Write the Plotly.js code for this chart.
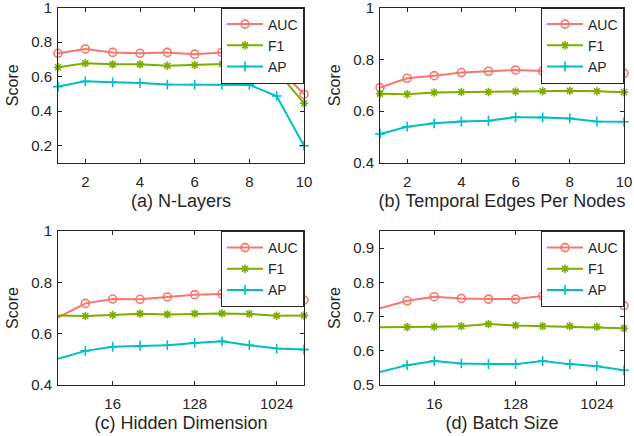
<!DOCTYPE html>
<html>
<head>
<meta charset="utf-8">
<script src="https://cdn.plot.ly/plotly-3.0.1.min.js"></script>
<style>html,body{margin:0;padding:0;background:#fff;}#chart{width:634px;height:436px;}</style>
</head>
<body>
<div id="chart"></div>
<script>
// ---- data ----
const seriesNames = ["AUC", "F1", "AP"];
const seriesColors = ["#F8766D", "#7CAE00", "#00BFC4"];

const layersX = [1, 2, 3, 4, 5, 6, 7, 8, 9, 10];
const layersAUC = [0.735, 0.760, 0.740, 0.735, 0.740, 0.730, 0.740, 0.745, 0.660, 0.498];
const layersF1  = [0.654, 0.677, 0.671, 0.671, 0.663, 0.667, 0.673, 0.672, 0.635, 0.446];
const layersAP  = [0.542, 0.573, 0.567, 0.563, 0.554, 0.554, 0.554, 0.552, 0.488, 0.200];

const edgesX = [1, 2, 3, 4, 5, 6, 7, 8, 9, 10];
const edgesAUC = [0.691, 0.727, 0.737, 0.749, 0.754, 0.759, 0.755, 0.753, 0.744, 0.746];
const edgesF1  = [0.667, 0.665, 0.672, 0.674, 0.674, 0.676, 0.677, 0.679, 0.677, 0.673];
const edgesAP  = [0.512, 0.540, 0.553, 0.560, 0.563, 0.577, 0.576, 0.572, 0.560, 0.559];

const hiddenX = [4, 8, 16, 32, 64, 128, 256, 512, 1024, 2048];
const hiddenAUC = [0.663, 0.718, 0.735, 0.734, 0.743, 0.752, 0.755, 0.746, 0.735, 0.731];
const hiddenF1  = [0.671, 0.669, 0.673, 0.678, 0.675, 0.678, 0.679, 0.677, 0.670, 0.671];
const hiddenAP  = [0.502, 0.533, 0.549, 0.553, 0.555, 0.564, 0.570, 0.555, 0.542, 0.538];

const batchX = [4, 8, 16, 32, 64, 128, 256, 512, 1024, 2048];
const batchAUC = [0.724, 0.746, 0.758, 0.753, 0.751, 0.751, 0.760, 0.750, 0.741, 0.732];
const batchF1  = [0.669, 0.669, 0.670, 0.672, 0.678, 0.674, 0.672, 0.672, 0.670, 0.666];
const batchAP  = [0.538, 0.558, 0.570, 0.563, 0.561, 0.561, 0.570, 0.561, 0.555, 0.543];

const linTickVals = [2, 4, 6, 8, 10];
const logTickVals = [16, 128, 1024];
const logTickText = ["16", "128", "1024"];
const yTicksA = [0.2, 0.4, 0.6, 0.8, 1];
const yTicksB = [0.4, 0.6, 0.8, 1];
const yTicksC = [0.4, 0.6, 0.8, 1];
const yTicksD = [0.5, 0.6, 0.7, 0.8, 0.9];
const yTickTextA = ["0.2", "0.4", "0.6", "0.8", "1"];
const yTickTextB = ["0.4", "0.6", "0.8", "1"];
const yTickTextC = ["0.4", "0.6", "0.8", "1"];
const yTickTextD = ["0.5", "0.6", "0.7", "0.8", "0.9"];

const panelTitles = ["(a) N-Layers", "(b) Temporal Edges Per Nodes", "(c) Hidden Dimension", "(d) Batch Size"];

// ---- build ----
const FONT = "Liberation Sans, Arial, Helvetica, sans-serif";
const INK = "#262626";
const symbols = ["circle-open", "asterisk-open", "cross-thin-open"];
const msizes = [8, 7, 7];

const panels = [
  {x: layersX, ys: [layersAUC, layersF1, layersAP]},
  {x: edgesX, ys: [edgesAUC, edgesF1, edgesAP]},
  {x: hiddenX, ys: [hiddenAUC, hiddenF1, hiddenAP]},
  {x: batchX, ys: [batchAUC, batchF1, batchAP]}
];

const traces = [];
panels.forEach((p, i) => {
  const ax = i === 0 ? "" : String(i + 1);
  p.ys.forEach((ys, k) => {
    traces.push({
      type: "scatter", mode: "lines+markers",
      x: p.x, y: ys, name: seriesNames[k],
      xaxis: "x" + ax, yaxis: "y" + ax,
      legend: "legend" + ax,
      cliponaxis: false,
      line: {color: seriesColors[k], width: 2},
      marker: {symbol: symbols[k], size: msizes[k], color: seriesColors[k],
               line: {color: seriesColors[k], width: 1.6}},
      showlegend: true
    });
  });
});

const W = 634, H = 436;
const boxes = [
  {l: 58, r: 304, t: 7.5, b: 163},
  {l: 380, r: 624, t: 7.5, b: 163},
  {l: 58, r: 304, t: 231, b: 385},
  {l: 380, r: 624, t: 231, b: 385}
];
const yRanges = [[0.1, 1], [0.4, 1], [0.4, 1], [0.5, 0.95]];
const yTickVals = [yTicksA, yTicksB, yTicksC, yTicksD];
const yTickTexts = [yTickTextA, yTickTextB, yTickTextC, yTickTextD];

const layout = {
  width: W, height: H,
  margin: {l: 0, r: 0, t: 0, b: 0},
  paper_bgcolor: "#fff", plot_bgcolor: "#fff",
  font: {family: FONT, size: 15, color: INK},
  showlegend: true
};

boxes.forEach((bx, i) => {
  const ax = i === 0 ? "" : String(i + 1);
  const common = {
    showline: true, linecolor: INK, linewidth: 1, mirror: "ticks",
    ticks: "inside", ticklen: 4, tickcolor: INK, tickwidth: 1,
    showgrid: false, zeroline: false, automargin: false,
    ticklabeloverflow: "allow",
    tickfont: {family: FONT, size: 15, color: INK}
  };
  const xa = Object.assign({}, common, {
    domain: [bx.l / W, bx.r / W],
    anchor: "y" + ax,
    ticklabelstandoff: 5,
    title: {text: panelTitles[i], font: {family: FONT, size: 18, color: INK}, standoff: 5}
  });
  if (i < 2) {
    Object.assign(xa, {range: [1, 10], tickmode: "array", tickvals: linTickVals});
  } else {
    Object.assign(xa, {type: "log", range: [Math.log10(4), Math.log10(2048)],
      tickmode: "array", tickvals: logTickVals, ticktext: logTickText});
  }
  const ya = Object.assign({}, common, {
    domain: [(H - bx.b) / H, (H - bx.t) / H],
    anchor: "x" + ax,
    range: yRanges[i], tickmode: "array", tickvals: yTickVals[i], ticktext: yTickTexts[i],
    ticklabelstandoff: 2,
    title: {text: "Score", font: {family: FONT, size: 16, color: INK}, standoff: 8}
  });
  layout["xaxis" + ax] = xa;
  layout["yaxis" + ax] = ya;
  layout["legend" + ax] = {
    x: bx.r / W, y: (H - bx.t) / H, xanchor: "right", yanchor: "top",
    xref: "paper", yref: "paper",
    bgcolor: "#fff", bordercolor: INK, borderwidth: 1,
    font: {family: FONT, size: 14, color: INK},
    tracegroupgap: 0, itemwidth: 36
  };
});

Plotly.newPlot("chart", traces, layout, {displayModeBar: false, staticPlot: true});
</script>
</body>
</html>
